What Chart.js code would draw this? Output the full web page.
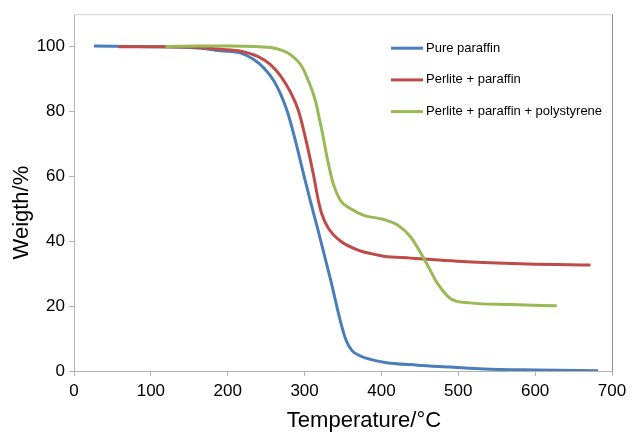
<!DOCTYPE html>
<html>
<head>
<meta charset="utf-8">
<script src="https://cdn.jsdelivr.net/npm/chart.js@4/dist/chart.umd.min.js"></script>
<style>
  html, body { margin: 0; padding: 0; background: #fff; }
  #wrap { width: 632px; height: 432px; }
</style>
</head>
<body>
<div id="wrap"><canvas id="tga" width="632" height="432"></canvas></div>
<script>
// TGA curves — weight (%) vs temperature (°C)

const tempPure = [26, 100, 165, 191, 217, 234, 247, 260, 269, 278, 287, 301, 308, 318, 334, 347, 354, 362, 373, 403, 447, 490, 533, 603, 682];
const wPure    = [100.2, 100, 99.5, 98.7, 98, 96, 93.4, 89.5, 85.3, 79.7, 72, 58.5, 52, 43, 28, 15, 9.5, 6.2, 4.6, 2.7, 1.8, 1.2, 0.6, 0.3, 0.1];

const tempPerlite = [58, 100, 150, 191, 217, 239, 256, 269, 282, 292, 301, 312, 318, 323, 331, 347, 373, 390, 403, 438, 455, 517, 590, 672];
const wPerlite    = [100, 100, 99.9, 99.2, 98.6, 97, 94.4, 90.9, 85.8, 80.3, 72, 60, 52.5, 48, 44, 40, 37, 36, 35.4, 34.8, 34.5, 33.6, 33, 32.7];

const tempPoly = [119, 160, 205, 256, 269, 282, 295, 305, 314, 318, 323, 330, 337, 347, 360, 377, 403, 421, 438, 455, 473, 490, 515, 567, 628];
const wPoly    = [100, 100.2, 100.2, 99.7, 99, 97.5, 94.4, 89.5, 83.4, 79.2, 73.6, 65, 58, 52.5, 50, 48, 46.7, 45, 41.3, 34.8, 27, 22.3, 21, 20.5, 20.1];

const seriesNames = ['Pure paraffin', 'Perlite + paraffin', 'Perlite + paraffin + polystyrene'];
const xTicks = [0, 100, 200, 300, 400, 500, 600, 700];
const yTicks = [0, 20, 40, 60, 80, 100];
const xTitle = 'Temperature/°C';
const yTitle = 'Weigth/%';

const FONT = '"Liberation Sans", Arial, Helvetica, sans-serif';
const AXIS_GRAY = '#b3b3b3';

const toPoints = (xs, ys) => xs.map((x, i) => ({ x: x, y: ys[i] }));

// marco superior/derecho del área de trazado
const frame = {
  id: 'frame',
  beforeDatasetsDraw(chart) {
    const { ctx, chartArea: a } = chart;
    ctx.save();
    ctx.lineWidth = 1;
    ctx.strokeStyle = '#d4d4d4';
    ctx.beginPath();
    ctx.moveTo(a.left, a.top + 0.5);
    ctx.lineTo(a.right, a.top + 0.5);
    ctx.stroke();
    ctx.strokeStyle = '#8c8c8c';
    ctx.beginPath();
    ctx.moveTo(a.right + 0.5, a.top);
    ctx.lineTo(a.right + 0.5, a.bottom);
    ctx.stroke();
    ctx.restore();
  }
};

// títulos de ejes (desplazados como en el original)
const axisTitles = {
  id: 'axisTitles',
  afterDraw(chart) {
    const { ctx, chartArea: a } = chart;
    ctx.save();
    ctx.fillStyle = '#000';
    ctx.font = '22px ' + FONT;
    ctx.textAlign = 'center';
    ctx.textBaseline = 'alphabetic';
    ctx.fillText(xTitle, (a.left + a.right) / 2 + 21, 427);
    ctx.translate(28, (a.top + a.bottom) / 2 + 20);
    ctx.rotate(-Math.PI / 2);
    ctx.fillText(yTitle, 0, 0);
    ctx.restore();
  }
};

// leyenda dentro del área
const innerLegend = {
  id: 'innerLegend',
  afterDraw(chart) {
    const { ctx, chartArea: a } = chart;
    const x0 = a.left + 317;
    const y0 = a.top + 34;
    ctx.save();
    ctx.font = '13px ' + FONT;
    ctx.textBaseline = 'middle';
    chart.data.datasets.forEach((ds, i) => {
      const y = y0 + i * 31.7;
      ctx.strokeStyle = ds.borderColor;
      ctx.lineWidth = 3;
      ctx.beginPath();
      ctx.moveTo(x0, y);
      ctx.lineTo(x0 + 32, y);
      ctx.stroke();
      ctx.fillStyle = '#000';
      ctx.fillText(ds.label, x0 + 35, y);
    });
    ctx.restore();
  }
};

const baseDs = {
  borderWidth: 3,
  pointRadius: 0,
  fill: false,
  cubicInterpolationMode: 'monotone'
};

new Chart(document.getElementById('tga'), {
  type: 'line',
  data: {
    datasets: [
      { ...baseDs, label: seriesNames[0], data: toPoints(tempPure, wPure),       borderColor: '#4a7ebb', order: 3 },
      { ...baseDs, label: seriesNames[1], data: toPoints(tempPerlite, wPerlite), borderColor: '#be4b48', order: 2 },
      { ...baseDs, label: seriesNames[2], data: toPoints(tempPoly, wPoly),       borderColor: '#98b954', order: 1 }
    ]
  },
  options: {
    responsive: false,
    animation: false,
    devicePixelRatio: 1,
    layout: { padding: { top: 12, right: 20, left: 0, bottom: 0 } },
    plugins: { legend: { display: false }, tooltip: { enabled: false } },
    scales: {
      x: {
        type: 'linear',
        min: 0, max: 700,
        afterFit: s => { s.height = 61; },
        afterBuildTicks: s => { s.ticks = xTicks.map(v => ({ value: v })); },
        grid: { drawOnChartArea: false, drawTicks: true, tickLength: 5, color: AXIS_GRAY },
        border: { color: AXIS_GRAY },
        ticks: { color: '#000', font: { family: FONT, size: 17 }, padding: 5, maxRotation: 0 }
      },
      y: {
        min: 0, max: 110,
        afterFit: s => { s.width = 74; },
        afterBuildTicks: s => { s.ticks = yTicks.map(v => ({ value: v })); },
        grid: { drawOnChartArea: false, drawTicks: true, tickLength: 5, color: AXIS_GRAY },
        border: { color: AXIS_GRAY },
        ticks: { color: '#000', font: { family: FONT, size: 17 }, padding: 4 }
      }
    }
  },
  plugins: [frame, axisTitles, innerLegend]
});
</script>
</body>
</html>
